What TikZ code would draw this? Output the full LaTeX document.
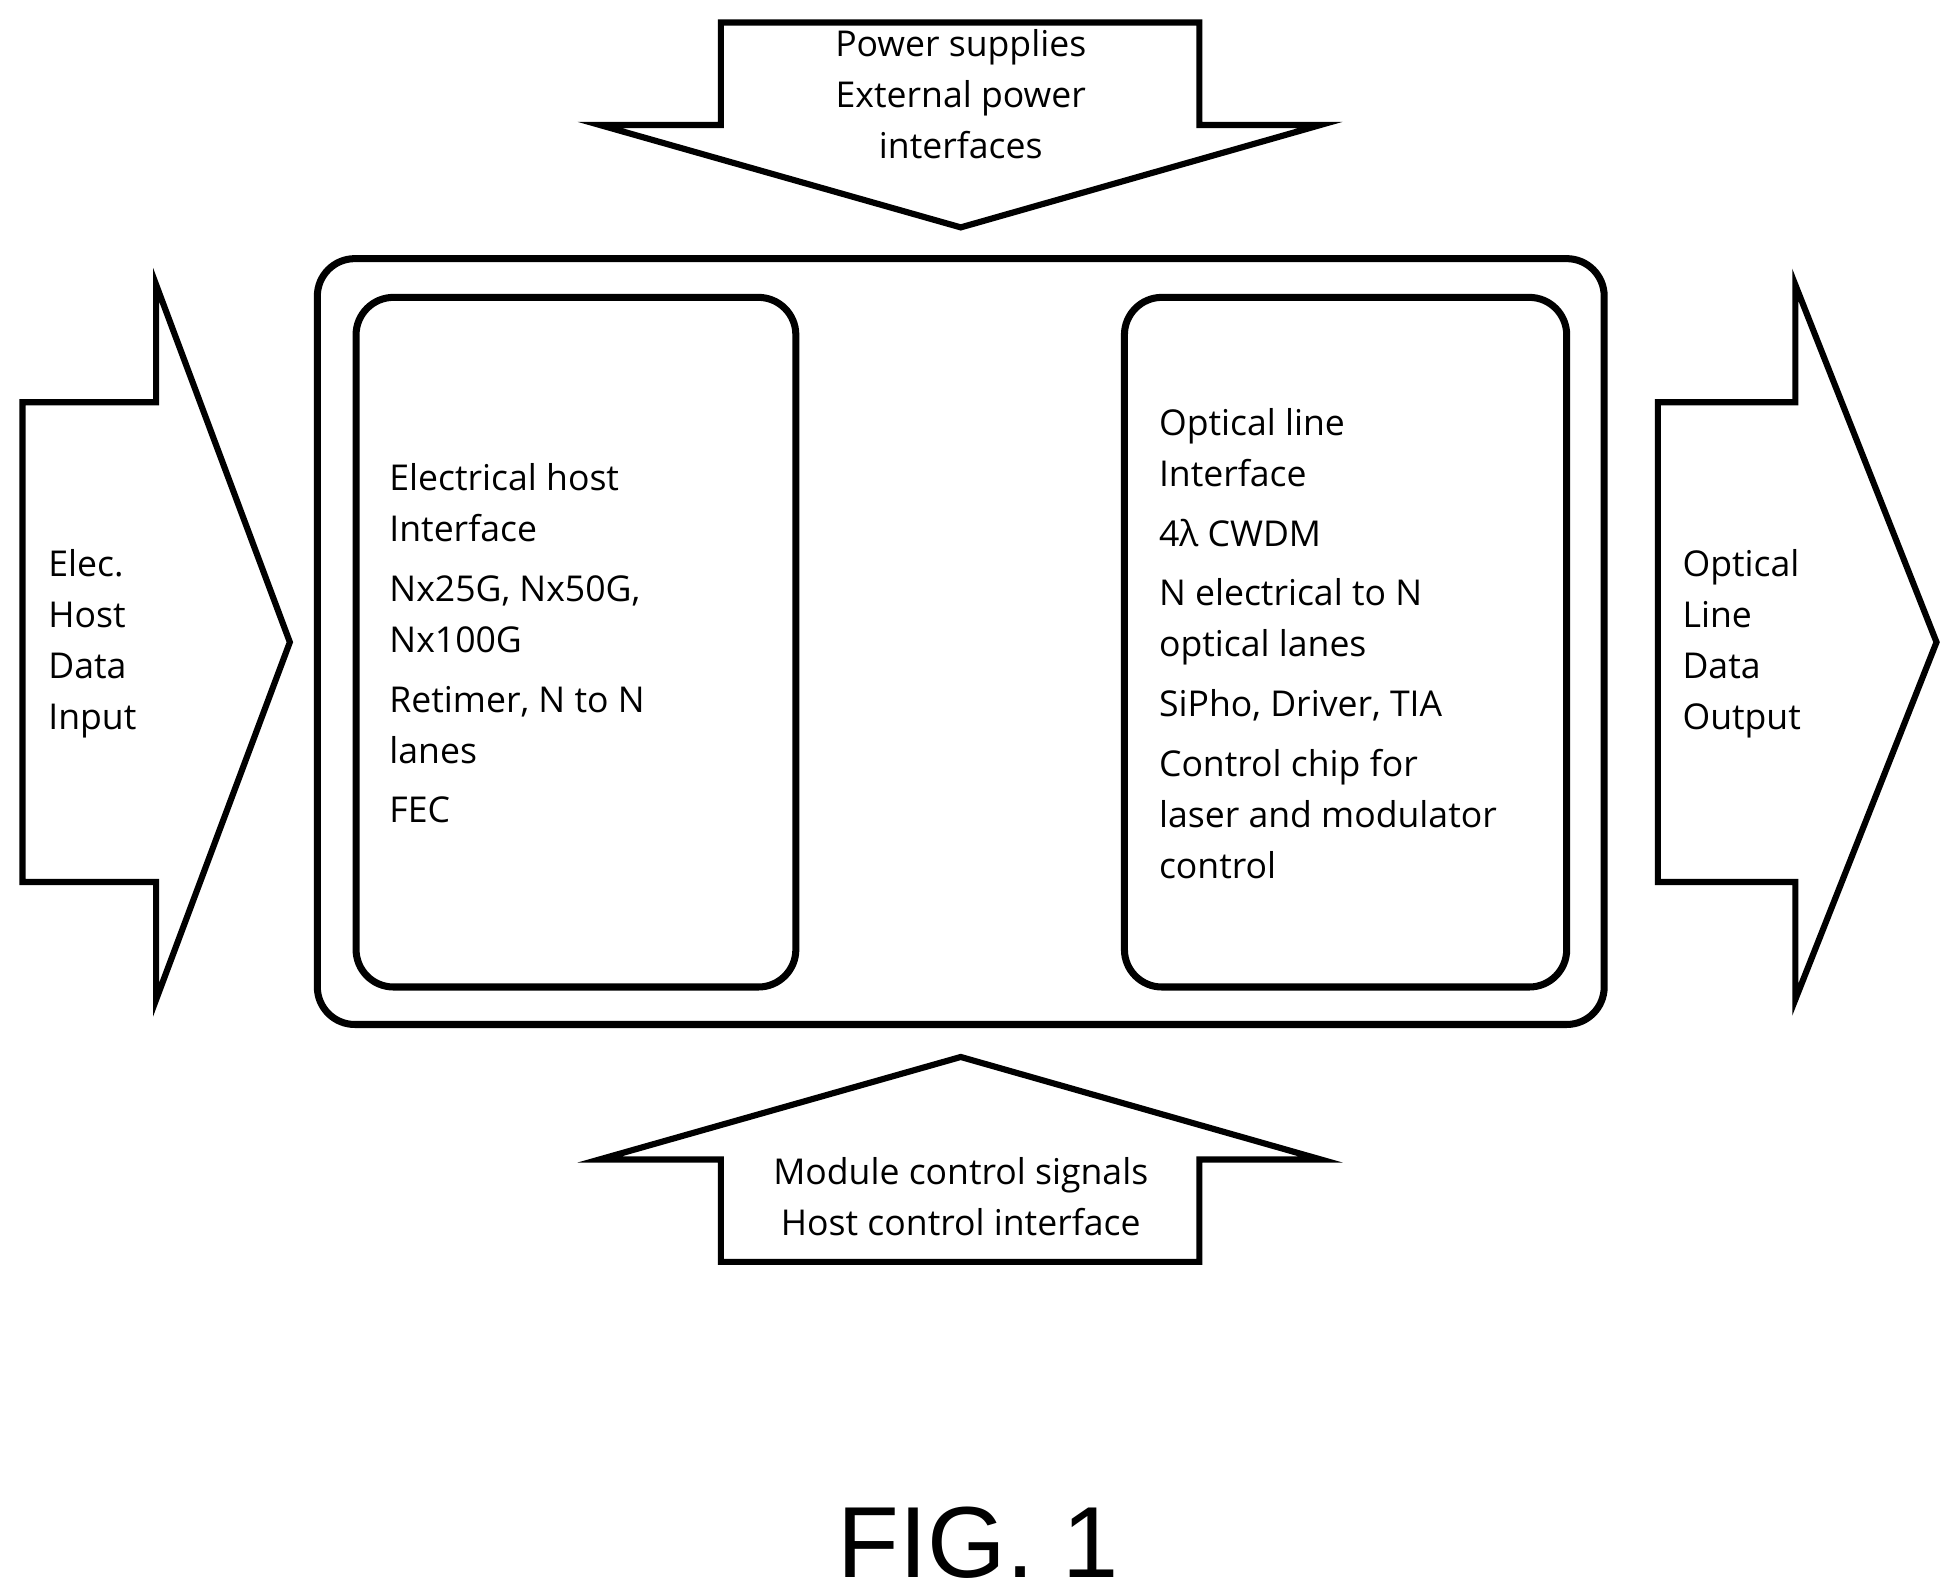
\documentclass[tikz,border=0pt]{standalone}
\usepackage{fontspec}
\setmainfont{Open Sans}
\newfontfamily\figfont{Liberation Sans}
\usepackage{tikz}
\usetikzlibrary{positioning}
\tikzstyle{block} = [draw=black, line width=1.4pt]
\tikzstyle{box} = [draw=black, line width=1.6pt, rounded corners=0.3cm]
\tikzstyle{txt} = [font=\fontsize{8.1}{11.6}\selectfont, align=left, inner sep=0pt]
\tikzstyle{ctxt} = [font=\fontsize{8.1}{11.6}\selectfont, align=center, inner sep=0pt]

\begin{document}
\begin{tikzpicture}[x=0.01cm, y=-0.01cm]
    \useasboundingbox (0,0) rectangle (1560,1275);
    % block arrows
    \draw [block] (577,18) -- (960,18) -- (960,100) -- (1057,100) -- (769,182) -- (480,100) -- (577,100) -- cycle;
    \draw [block] (577,1010) -- (960,1010) -- (960,928) -- (1057,928) -- (769,846) -- (480,928) -- (577,928) -- cycle;
    \draw [block] (18,322) -- (125,322) -- (125,228) -- (232,514) -- (125,800) -- (125,706) -- (18,706) -- cycle;
    \draw [block] (1327,322) -- (1437,322) -- (1437,228) -- (1550,514) -- (1437,800) -- (1437,706) -- (1327,706) -- cycle;
    % module boxes
    \draw [box] (254,207) rectangle (1284,820);
    \draw [box] (285,238) rectangle (637,790);
    \draw [box] (900,238) rectangle (1254,790);

    \node (power) [ctxt] at (769,75) {Power supplies\\External power\\interfaces};
    \node (ctrl) [ctxt] at (769,958) {Module control signals\\Host control interface};
    \node (input) [txt, anchor=west] at (38,515) {Elec.\\Host\\Data\\Input};
    \node (output) [txt, anchor=west] at (1346,515) {Optical\\Line\\Data\\Output};
    \node (host) [txt, anchor=west] at (311,515) {Electrical host\\Interface\\[0.07cm]Nx25G, Nx50G,\\Nx100G\\[0.07cm]Retimer, N to N\\lanes\\[0.07cm]FEC};
    \node (line) [txt, anchor=west] at (927,515) {Optical line\\Interface\\[0.07cm]4λ CWDM\\[0.07cm]N electrical to N\\optical lanes\\[0.07cm]SiPho, Driver, TIA\\[0.07cm]Control chip for\\laser and modulator\\control};
    \node (fig) [font=\figfont\fontsize{23}{27}\selectfont, inner sep=0pt] at (783,1235) {FIG. 1};
\end{tikzpicture}
\end{document}
